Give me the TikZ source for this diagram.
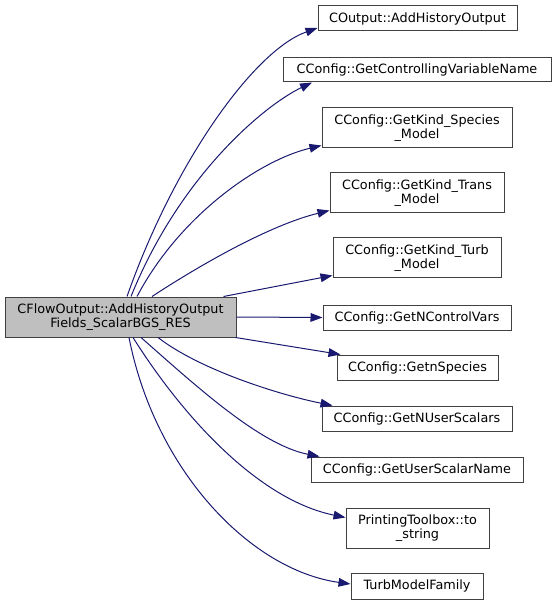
\documentclass[tikz,border=0pt]{standalone}
\usepackage{fontspec}
\setmainfont{DejaVu Sans}
\usetikzlibrary{arrows.meta}
\definecolor{edgeblue}{HTML}{191970}
\definecolor{boxborder}{HTML}{404040}
\definecolor{mainfill}{HTML}{BFBFBF}
\begin{document}
\begin{tikzpicture}[x=0.75pt,y=-0.75pt,
  box/.style={draw=boxborder,line width=0.75pt,fill=white,inner sep=0pt,align=center,
    font=\fontsize{9.6pt}{10.5pt}\selectfont},
  mainbox/.style={box,fill=mainfill},
  edge/.style={draw=edgeblue,line width=0.75pt,-{Triangle[length=9pt,width=6.5pt]}}]
\useasboundingbox (0,0) rectangle (556,605);
\node[mainbox,minimum width=231*0.75pt,minimum height=40*0.75pt] (m) at (120.5,317) {CFlowOutput::AddHistoryOutput\\Fields\_ScalarBGS\_RES};
\node[box,minimum width=199*0.75pt,minimum height=25*0.75pt] (n1) at (417.5,18.5) {COutput::AddHistoryOutput};
\node[box,minimum width=268*0.75pt,minimum height=24*0.75pt] (n2) at (417,70) {CConfig::GetControllingVariableName};
\node[box,minimum width=190*0.75pt,minimum height=40*0.75pt] (n3) at (417,128) {CConfig::GetKind\_Species\\\_Model};
\node[box,minimum width=174*0.75pt,minimum height=40*0.75pt] (n4) at (417,193) {CConfig::GetKind\_Trans\\\_Model};
\node[box,minimum width=168*0.75pt,minimum height=40*0.75pt] (n5) at (417,258) {CConfig::GetKind\_Turb\\\_Model};
\node[box,minimum width=188*0.75pt,minimum height=25*0.75pt] (n6) at (417,317.5) {CConfig::GetNControlVars};
\node[box,minimum width=161*0.75pt,minimum height=25*0.75pt] (n7) at (417.5,367.5) {CConfig::GetnSpecies};
\node[box,minimum width=190*0.75pt,minimum height=25*0.75pt] (n8) at (417,418.5) {CConfig::GetNUserScalars};
\node[box,minimum width=212*0.75pt,minimum height=25*0.75pt] (n9) at (417,469.5) {CConfig::GetUserScalarName};
\node[box,minimum width=143*0.75pt,minimum height=40*0.75pt] (n10) at (417.5,528) {PrintingToolbox::to\\\_string};
\node[box,minimum width=132*0.75pt,minimum height=26*0.75pt] (n11) at (417,586) {TurbModelFamily};
% connectors
\draw[edge] ([xshift=6.5*0.75pt]m.north) .. controls (175,160) and (255,50) .. (n1.west |- 0,28);
\draw[edge] ([xshift=10.5*0.75pt]m.north) .. controls (180,175) and (265,105) .. ([xshift=-105*0.75pt]n2.south);
\draw[edge] ([xshift=16.5*0.75pt]m.north) .. controls (180,215) and (260,160) .. ([yshift=3*0.75pt]n3.south west);
\draw[edge] ([xshift=31.5*0.75pt]m.north) .. controls (200,265) and (270,225) .. ([yshift=3*0.75pt]n4.south west);
\draw[edge] ([xshift=-13*0.75pt]m.north east) -- ([yshift=3*0.75pt]n5.south west);
\draw[edge] (m.east) -- (n6.west);
\draw[edge] ([xshift=-1*0.75pt]m.south east) -- ([xshift=4*0.75pt]n7.north west);
\draw[edge] ([xshift=37.5*0.75pt]m.south) .. controls (200,370) and (280,395) .. ([xshift=11*0.75pt]n8.north west);
\draw[edge] ([xshift=20.5*0.75pt]m.south) .. controls (195,385) and (260,445) .. ([xshift=9*0.75pt]n9.north west);
\draw[edge] ([xshift=12.5*0.75pt]m.south) .. controls (185,420) and (260,500) .. ([yshift=-10*0.75pt]n10.north west);
\draw[edge] ([xshift=8.5*0.75pt]m.south) .. controls (155,470) and (250,570) .. ([yshift=2*0.75pt]n11.west);
\end{tikzpicture}
\end{document}
